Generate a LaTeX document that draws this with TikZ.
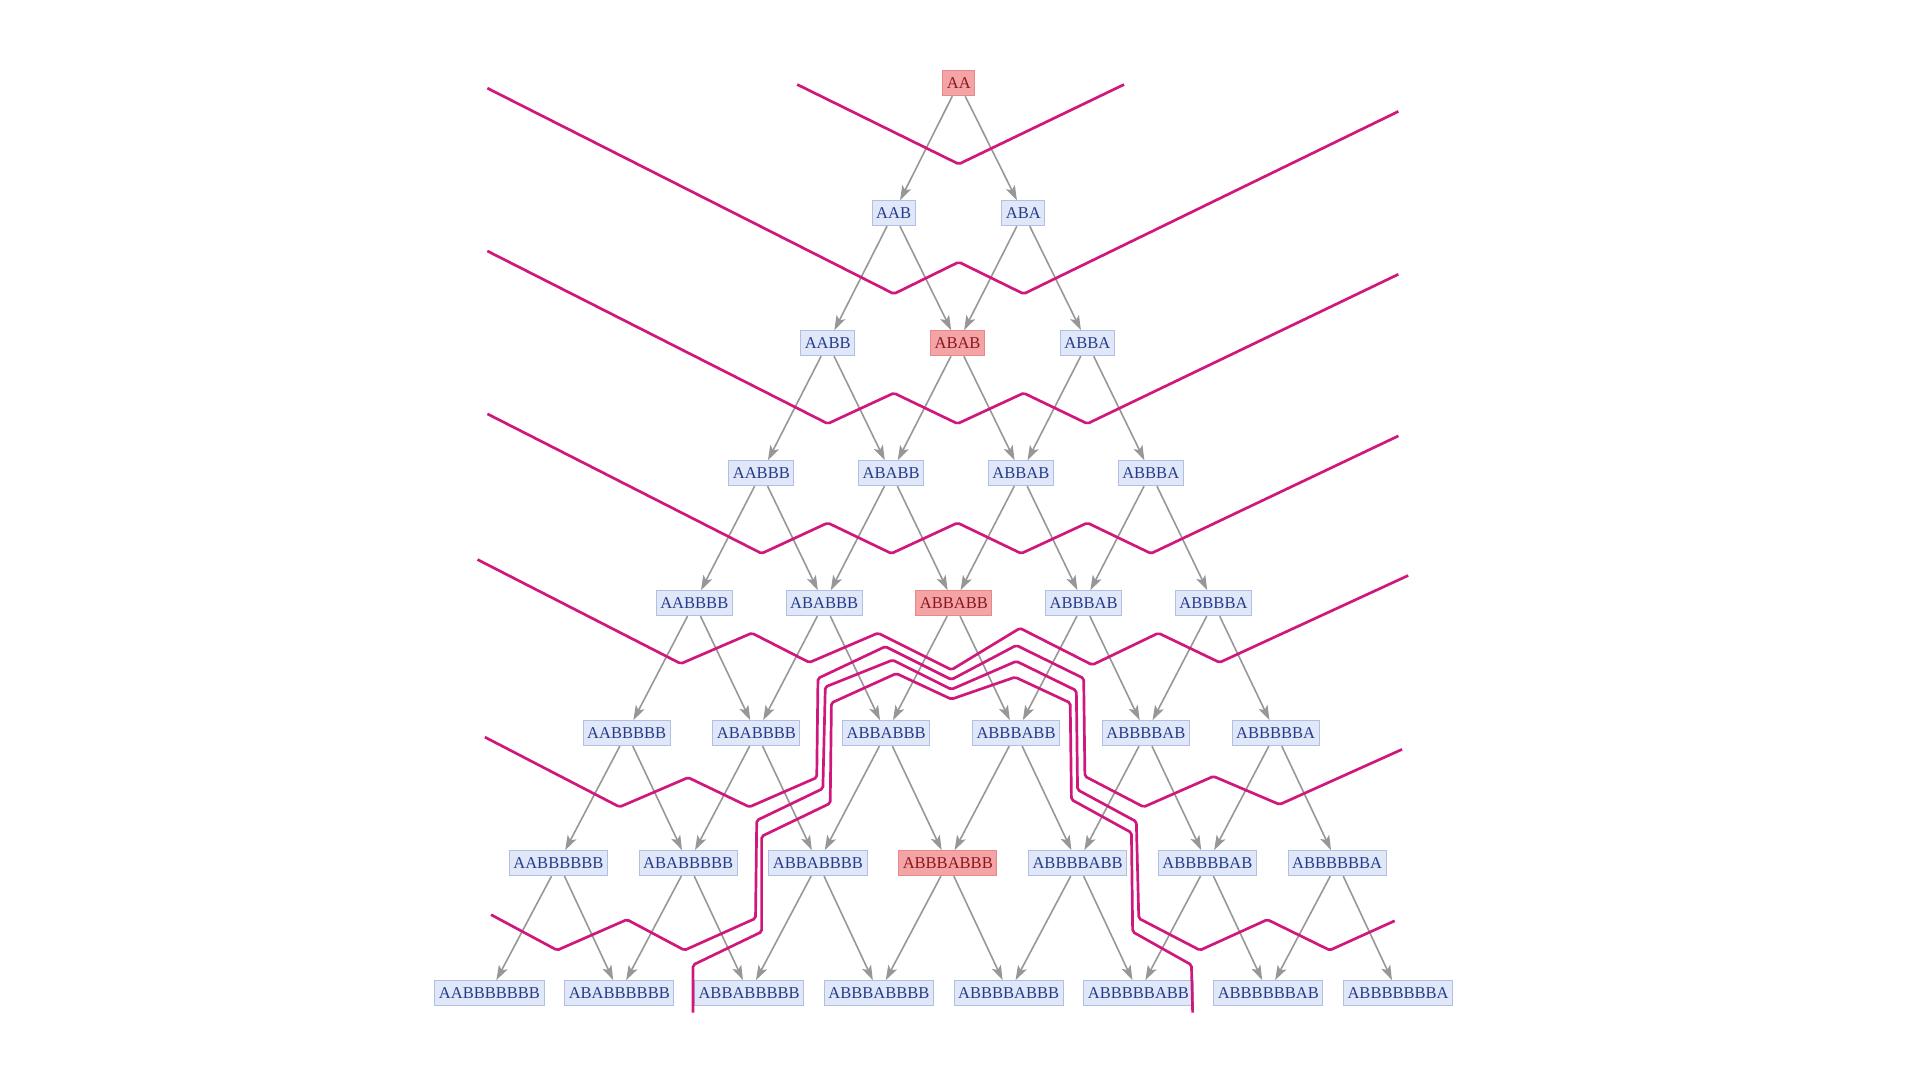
\documentclass[tikz,border=0pt]{standalone}
\usepackage{fontspec}
\setmainfont{Liberation Serif}
\usetikzlibrary{arrows.meta,positioning}
\definecolor{stateblue}{HTML}{DFE7F8}
\definecolor{stateline}{HTML}{B0C0E4}
\definecolor{statetext}{HTML}{263C8A}
\definecolor{hotfill}{HTML}{F4A4A4}
\definecolor{hotline}{HTML}{E58A8A}
\definecolor{hottext}{HTML}{8A1820}
\definecolor{slicecol}{HTML}{D0187C}
\definecolor{edgegrey}{HTML}{979797}
\newcommand\Bs[1]{\ifnum#1>0 B\Bs{\numexpr#1-1\relax}\fi}

\begin{document}
\begin{tikzpicture}[x=1pt,y=-1pt]

\tikzset{statenode/.style={font=\fontsize{13.5}{14}\selectfont,fill=stateblue,draw=stateline,text=statetext,line width=0.8pt,inner xsep=3.3pt,inner ysep=0pt,minimum height=20.4pt,text height=8.9pt,text depth=0pt,shape=rectangle},
hotnode/.style={statenode,fill=hotfill,draw=hotline,text=hottext},
edge/.style={draw=edgegrey,line width=1.3pt,-{Stealth[length=12pt,width=8pt,inset=2.8pt]}},
slice/.style={draw=slicecol,line width=2.2pt,rounded corners=1.5pt}}

\useasboundingbox (0,0) rectangle (1568,882);

% states, row by row
\foreach \n in {0,...,7} \foreach \k in {0,...,\n} {
  \pgfmathsetmacro\xx{783+106*(\k-\n/2)-0.25*\n*\n}
  \pgfmathsetmacro\yy{68+106.15*\n}
  \pgfmathtruncatemacro\rest{\n-\k}
  \pgfmathtruncatemacro\isred{2*\k==\n}
  \ifnum\isred=1 \def\sty{hotnode}\else\def\sty{statenode}\fi
  \node[\sty] (w\n\k) at (\xx,\yy) {A\Bs{\k}A\Bs{\rest}};
}

% Edges
\foreach \n in {0,...,6} \foreach \k in {0,...,\n} {
  \pgfmathtruncatemacro\nn{\n+1}
  \pgfmathtruncatemacro\kk{\k+1}
  \draw[edge] (w\n\k) -- (w\nn\k);
  \draw[edge] (w\n\k) -- (w\nn\kk);
}

% Slices
\draw[slice] (651,69) -- (783,134) -- (918,69);
\draw[slice] (398,72) -- (730,240) -- (783,214) -- (836,240) -- (1142,91);
\draw[slice] (398,205) -- (676,346) -- (730,321) -- (782,346) -- (836,321) -- (888,346) -- (1142,224);
\draw[slice] (398,338) -- (622,452) -- (676,427) -- (728,452) -- (782,427) -- (834,452) -- (888,427) -- (940,452) -- (1142,356);
\draw[slice] (390,457) -- (556,542) -- (614,517) -- (661,541) -- (717,517) -- (777,547) -- (833,513) -- (892,543) -- (946,517) -- (996,541) -- (1150,470);
\draw[slice] (396,602) -- (506,659) -- (562,635) -- (612,659) -- (667,635) -- (668,554) -- (723,528) -- (777,555) -- (830,527) -- (885,554) -- (886,634) -- (934,659) -- (991,634) -- (1045,657) -- (1145,612);
\draw[slice] (401,747) -- (455,776) -- (512,751) -- (559,776) -- (617,750) -- (618,670) -- (672,644) -- (674,561) -- (729,539) -- (777,563) -- (830,540) -- (879,564) -- (880,645) -- (928,671) -- (930,750) -- (980,776) -- (1035,751) -- (1086,776) -- (1139,752);
\draw[slice] (566,827) -- (566,788) -- (622,761) -- (622,683) -- (678,656) -- (679,574) -- (732,550) -- (777,571) -- (829,553) -- (874,574) -- (875,653) -- (924,680) -- (925,761) -- (973,788) -- (974,827);

\end{tikzpicture}
\end{document}
